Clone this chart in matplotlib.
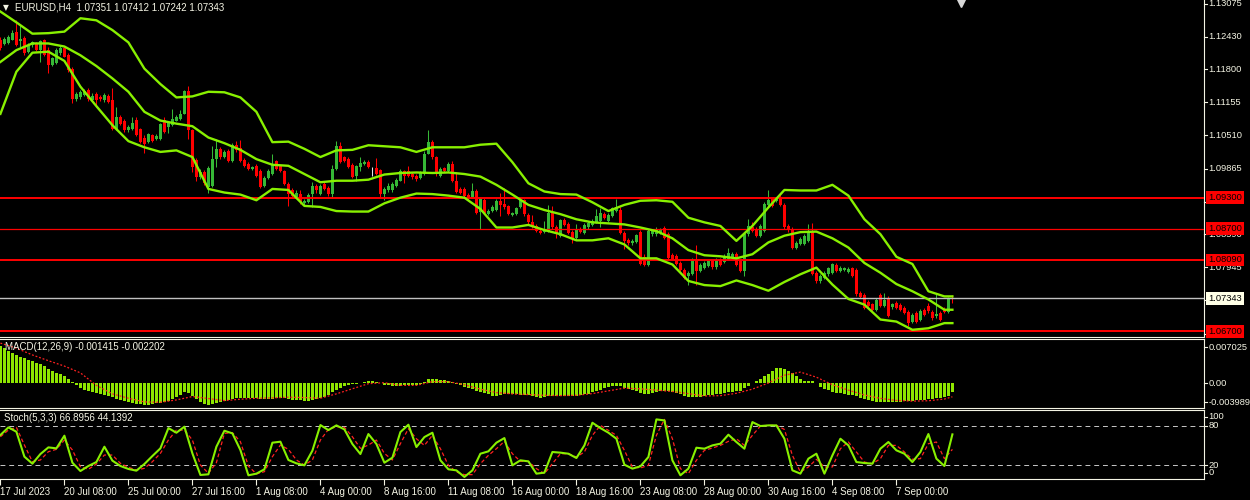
import numpy as np
import matplotlib
matplotlib.use("Agg")
import matplotlib.pyplot as plt
from matplotlib.transforms import offset_copy

# ---- data (EURUSD H4) ----
symbol = "EURUSD,H4"

opens = np.array([
    1.1237, 1.1229, 1.1230, 1.1237, 1.1253, 1.1234, 1.1240, 1.1214, 1.1227, 1.1230,
    1.1217, 1.1236, 1.1217, 1.1188, 1.1191, 1.1211, 1.1221, 1.1207, 1.1180, 1.1121,
    1.1125, 1.1129, 1.1140, 1.1120, 1.1131, 1.1126, 1.1120, 1.1128, 1.1120, 1.1064,
    1.1086, 1.1079, 1.1061, 1.1064, 1.1082, 1.1063, 1.1047, 1.1038, 1.1051, 1.1045,
    1.1045, 1.1082, 1.1067, 1.1071, 1.1080, 1.1084, 1.1093, 1.1137, 1.1061, 1.1004,
    1.0970, 1.0979, 1.0951, 1.0953, 1.1005, 1.1024, 1.1010, 1.1020, 1.1002, 1.1033,
    1.1027, 1.1004, 1.0996, 1.0985, 1.0991, 1.0981, 1.0953, 1.0969, 1.0976, 1.1001,
    1.0991, 1.0981, 1.0957, 1.0945, 1.0930, 1.0937, 1.0919, 1.0921, 1.0937, 1.0952,
    1.0938, 1.0957, 1.0949, 1.0937, 1.0986, 1.1031, 1.1009, 1.1005, 1.0994, 1.0972,
    1.0990, 1.0996, 1.1000, 1.0989, 1.0988, 1.0983, 1.0937, 1.0944, 1.0945, 1.0953,
    1.0963, 1.0981, 1.0981, 1.0976, 1.0973, 1.0968, 1.0976, 1.1015, 1.1039, 1.1009,
    1.0973, 1.0987, 1.0981, 1.0996, 1.0963, 1.0946, 1.0946, 1.0936, 1.0932, 1.0943,
    1.0903, 1.0926, 1.0898, 1.0904, 1.0906, 1.0924, 1.0918, 1.0914, 1.0897, 1.0899,
    1.0911, 1.0925, 1.0897, 1.0883, 1.0875, 1.0866, 1.0864, 1.0865, 1.0902, 1.0873,
    1.0856, 1.0887, 1.0879, 1.0863, 1.0851, 1.0868, 1.0861, 1.0872, 1.0877, 1.0882,
    1.0885, 1.0899, 1.0884, 1.0895, 1.0904, 1.0907, 1.0861, 1.0848, 1.0841, 1.0843,
    1.0864, 1.0815, 1.0800, 1.0859, 1.0859, 1.0862, 1.0871, 1.0860, 1.0818, 1.0817,
    1.0803, 1.0790, 1.0777, 1.0781, 1.0807, 1.0788, 1.0794, 1.0797, 1.0806, 1.0795,
    1.0809, 1.0805, 1.0810, 1.0813, 1.0820, 1.0806, 1.0787, 1.0859, 1.0873, 1.0868,
    1.0856, 1.0865, 1.0916, 1.0927, 1.0924, 1.0930, 1.0916, 1.0875, 1.0868, 1.0833,
    1.0839, 1.0839, 1.0846, 1.0863, 1.0783, 1.0768, 1.0774, 1.0781, 1.0784, 1.0800,
    1.0788, 1.0790, 1.0786, 1.0793, 1.0790, 1.0744, 1.0741, 1.0728, 1.0723, 1.0712,
    1.0741, 1.0719, 1.0734, 1.0717, 1.0725, 1.0721, 1.0716, 1.0708, 1.0688, 1.0705,
    1.0693, 1.0712, 1.0720, 1.0708, 1.0699, 1.0705, 1.0714, 1.0708, 1.07351])

highs = np.array([
    1.1243, 1.1242, 1.1246, 1.1256, 1.1275, 1.1266, 1.1245, 1.1230, 1.1234, 1.1232,
    1.1236, 1.1238, 1.1224, 1.1204, 1.1221, 1.1225, 1.1224, 1.1211, 1.1185, 1.1135,
    1.1139, 1.1142, 1.1144, 1.1133, 1.1135, 1.1130, 1.1133, 1.1131, 1.1144, 1.1107,
    1.1090, 1.1083, 1.1071, 1.1087, 1.1086, 1.1066, 1.1051, 1.1056, 1.1054, 1.1054,
    1.1075, 1.1086, 1.1080, 1.1103, 1.1090, 1.1100, 1.1140, 1.1147, 1.1064, 1.1007,
    1.0986, 1.0983, 1.0992, 1.1030, 1.1045, 1.1028, 1.1022, 1.1024, 1.1036, 1.1041,
    1.1043, 1.1007, 1.0999, 1.0992, 1.0996, 1.0986, 1.0973, 1.0986, 1.1015, 1.1004,
    1.0994, 1.0984, 1.0960, 1.0949, 1.0944, 1.0945, 1.0927, 1.0940, 1.0960, 1.0957,
    1.0957, 1.0960, 1.0953, 1.0994, 1.1040, 1.1038, 1.1012, 1.1009, 1.0997, 1.0994,
    1.1009, 1.1004, 1.1004, 1.0990, 1.1007, 1.0986, 1.0950, 1.0958, 1.0960, 1.0968,
    1.0986, 1.0984, 1.0992, 1.0979, 1.0976, 1.0981, 1.1020, 1.1062, 1.1043, 1.1012,
    1.0989, 1.0990, 1.1000, 1.1002, 1.0979, 1.0950, 1.0950, 1.0940, 1.0958, 1.0947,
    1.0932, 1.0929, 1.0908, 1.0915, 1.0927, 1.0940, 1.0948, 1.0916, 1.0903, 1.0912,
    1.0930, 1.0928, 1.0901, 1.0896, 1.0878, 1.0869, 1.0884, 1.0916, 1.0913, 1.0877,
    1.0889, 1.0890, 1.0882, 1.0867, 1.0878, 1.0872, 1.0880, 1.0885, 1.0888, 1.0908,
    1.0910, 1.0903, 1.0901, 1.0912, 1.0927, 1.0911, 1.0865, 1.0852, 1.0850, 1.0860,
    1.0867, 1.0820, 1.0869, 1.0870, 1.0872, 1.0871, 1.0875, 1.0863, 1.0822, 1.0821,
    1.0807, 1.0794, 1.0787, 1.0813, 1.0837, 1.0803, 1.0807, 1.0809, 1.0809, 1.0813,
    1.0813, 1.0820, 1.0833, 1.0824, 1.0824, 1.0809, 1.0861, 1.0888, 1.0882, 1.0872,
    1.0878, 1.0921, 1.0944, 1.0930, 1.0932, 1.0936, 1.0919, 1.0878, 1.0872, 1.0846,
    1.0854, 1.0859, 1.0878, 1.0880, 1.0787, 1.0781, 1.0787, 1.0796, 1.0803, 1.0803,
    1.0797, 1.0796, 1.0795, 1.0796, 1.0794, 1.0748, 1.0744, 1.0730, 1.0726, 1.0734,
    1.0745, 1.0745, 1.0738, 1.0726, 1.0729, 1.0725, 1.0719, 1.0712, 1.0705, 1.0709,
    1.0713, 1.0716, 1.0725, 1.0712, 1.0742, 1.0709, 1.0717, 1.0736, 1.07412])

lows = np.array([
    1.1217, 1.1226, 1.1229, 1.1236, 1.1225, 1.1224, 1.1207, 1.1212, 1.1224, 1.1216,
    1.1194, 1.1206, 1.1172, 1.1186, 1.1190, 1.1207, 1.1203, 1.1175, 1.1114, 1.1118,
    1.1122, 1.1127, 1.1118, 1.1118, 1.1107, 1.1118, 1.1117, 1.1114, 1.1062, 1.1062,
    1.1072, 1.1058, 1.1058, 1.1062, 1.1049, 1.1036, 1.1017, 1.1036, 1.1039, 1.1043,
    1.1043, 1.1056, 1.1056, 1.1069, 1.1079, 1.1082, 1.1092, 1.1045, 1.0979, 1.0963,
    1.0967, 1.0955, 1.0940, 1.0951, 1.0989, 1.1006, 1.1007, 1.1000, 1.1000, 1.1019,
    1.1000, 1.0990, 1.0984, 1.0983, 1.0971, 1.0949, 1.0951, 1.0967, 1.0975, 1.0984,
    1.0979, 1.0955, 1.0914, 1.0932, 1.0929, 1.0918, 1.0916, 1.0919, 1.0911, 1.0940,
    1.0936, 1.0945, 1.0934, 1.0930, 1.0983, 1.0997, 1.1000, 1.0987, 1.0968, 1.0963,
    1.0981, 1.0993, 1.0987, 1.0973, 1.0974, 1.0930, 1.0925, 1.0942, 1.0942, 1.0950,
    1.0962, 1.0958, 1.0970, 1.0966, 1.0963, 1.0966, 1.0975, 1.1014, 1.1006, 1.0972,
    1.0971, 1.0979, 1.0979, 1.0961, 1.0940, 1.0938, 1.0932, 1.0925, 1.0929, 1.0898,
    1.0869, 1.0899, 1.0896, 1.0903, 1.0904, 1.0895, 1.0908, 1.0896, 1.0895, 1.0897,
    1.0909, 1.0895, 1.0878, 1.0871, 1.0863, 1.0860, 1.0861, 1.0863, 1.0869, 1.0852,
    1.0854, 1.0875, 1.0860, 1.0841, 1.0848, 1.0861, 1.0859, 1.0869, 1.0875, 1.0880,
    1.0872, 1.0888, 1.0882, 1.0893, 1.0902, 1.0859, 1.0830, 1.0838, 1.0838, 1.0841,
    1.0799, 1.0797, 1.0798, 1.0856, 1.0856, 1.0859, 1.0850, 1.0811, 1.0808, 1.0799,
    1.0788, 1.0771, 1.0761, 1.0779, 1.0761, 1.0786, 1.0791, 1.0795, 1.0792, 1.0792,
    1.0798, 1.0803, 1.0808, 1.0811, 1.0798, 1.0785, 1.0777, 1.0856, 1.0863, 1.0854,
    1.0854, 1.0863, 1.0914, 1.0912, 1.0921, 1.0914, 1.0869, 1.0864, 1.0830, 1.0830,
    1.0837, 1.0837, 1.0843, 1.0779, 1.0765, 1.0765, 1.0771, 1.0778, 1.0782, 1.0786,
    1.0786, 1.0787, 1.0784, 1.0775, 1.0739, 1.0734, 1.0713, 1.0717, 1.0710, 1.0710,
    1.0717, 1.0717, 1.0697, 1.0714, 1.0713, 1.0710, 1.0704, 1.0680, 1.0686, 1.0687,
    1.0691, 1.0700, 1.0706, 1.0693, 1.0696, 1.0691, 1.0705, 1.0705, 1.07242])

closes = np.array([
    1.1221, 1.1238, 1.1242, 1.1251, 1.1227, 1.1238, 1.1211, 1.1227, 1.1232, 1.1217,
    1.1234, 1.1207, 1.1188, 1.1201, 1.1217, 1.1222, 1.1204, 1.1178, 1.1121, 1.1131,
    1.1135, 1.1138, 1.1121, 1.1128, 1.1120, 1.1121, 1.1129, 1.1116, 1.1064, 1.1087,
    1.1074, 1.1061, 1.1067, 1.1076, 1.1051, 1.1038, 1.1035, 1.1053, 1.1041, 1.1050,
    1.1073, 1.1058, 1.1077, 1.1083, 1.1086, 1.1093, 1.1137, 1.1061, 1.0989, 1.0971,
    1.0979, 1.0958, 1.0988, 1.1005, 1.1024, 1.1009, 1.1018, 1.1002, 1.1033, 1.1022,
    1.1002, 1.0992, 1.0986, 1.0990, 1.0973, 1.0950, 1.0969, 1.0981, 1.0995, 1.0986,
    1.0981, 1.0957, 1.0937, 1.0934, 1.0940, 1.0921, 1.0924, 1.0936, 1.0953, 1.0944,
    1.0953, 1.0947, 1.0937, 1.0985, 1.1031, 1.0999, 1.1002, 1.0989, 1.0971, 1.0992,
    1.0998, 1.1000, 1.0989, 1.0989, 1.0976, 1.0937, 1.0946, 1.0953, 1.0956, 1.0964,
    1.0981, 1.0973, 1.0973, 1.0970, 1.0966, 1.0979, 1.1015, 1.1039, 1.1009, 1.0979,
    1.0985, 1.0981, 1.0996, 1.0963, 1.0942, 1.0940, 1.0934, 1.0927, 1.0943, 1.0901,
    1.0927, 1.0901, 1.0905, 1.0912, 1.0923, 1.0916, 1.0911, 1.0898, 1.0901, 1.0909,
    1.0925, 1.0898, 1.0882, 1.0873, 1.0865, 1.0862, 1.0869, 1.0901, 1.0872, 1.0859,
    1.0886, 1.0877, 1.0862, 1.0849, 1.0868, 1.0864, 1.0876, 1.0881, 1.0884, 1.0894,
    1.0901, 1.0890, 1.0897, 1.0909, 1.0912, 1.0861, 1.0846, 1.0841, 1.0846, 1.0857,
    1.0801, 1.0800, 1.0865, 1.0866, 1.0868, 1.0867, 1.0852, 1.0813, 1.0810, 1.0801,
    1.0790, 1.0774, 1.0783, 1.0809, 1.0788, 1.0800, 1.0803, 1.0806, 1.0795, 1.0809,
    1.0800, 1.0816, 1.0822, 1.0820, 1.0800, 1.0787, 1.0859, 1.0875, 1.0865, 1.0856,
    1.0875, 1.0918, 1.0925, 1.0914, 1.0930, 1.0916, 1.0872, 1.0867, 1.0833, 1.0842,
    1.0850, 1.0855, 1.0863, 1.0782, 1.0768, 1.0777, 1.0783, 1.0793, 1.0801, 1.0788,
    1.0794, 1.0794, 1.0792, 1.0777, 1.0742, 1.0736, 1.0716, 1.0719, 1.0712, 1.0730,
    1.0719, 1.0730, 1.0699, 1.0723, 1.0716, 1.0712, 1.0706, 1.0686, 1.0702, 1.0689,
    1.0710, 1.0702, 1.0709, 1.0696, 1.0704, 1.0693, 1.0708, 1.0732, 1.07343])

# Bollinger bands (20,2), read every 4th bar plus the last one
bb_upper = [1.1292, 1.1271, 1.1249, 1.1250, 1.1253, 1.1279, 1.1275, 1.1256, 1.1232, 1.1181,
            1.1151, 1.1125, 1.1127, 1.1136, 1.1135, 1.1125, 1.1097, 1.1038, 1.1039, 1.1025,
            1.1009, 1.1022, 1.1023, 1.1032, 1.1030, 1.1028, 1.1019, 1.1028, 1.1028, 1.1028,
            1.1033, 1.1035, 1.0999, 1.0958, 1.0942, 1.0937, 1.0936, 1.0921, 1.0904, 1.0916,
            1.0924, 1.0925, 1.0922, 1.0891, 1.0882, 1.0875, 1.0846, 1.0875, 1.0911, 1.0945,
            1.0944, 1.0944, 1.0955, 1.0934, 1.0888, 1.0859, 1.0815, 1.0801, 1.0748, 1.0738, 1.0738]
bb_middle = [1.1194, 1.1217, 1.1230, 1.1230, 1.1224, 1.1207, 1.1186, 1.1162, 1.1136, 1.1097,
             1.1080, 1.1074, 1.1069, 1.1047, 1.1036, 1.1023, 1.1005, 1.0994, 1.0992, 1.0976,
             1.0960, 1.0963, 1.0963, 1.0965, 1.0975, 1.0978, 1.0979, 1.0978, 1.0979, 1.0976,
             1.0971, 1.0955, 1.0936, 1.0916, 1.0906, 1.0898, 1.0888, 1.0882, 1.0880, 1.0878,
             1.0872, 1.0865, 1.0851, 1.0828, 1.0818, 1.0816, 1.0812, 1.0820, 1.0843, 1.0856,
             1.0863, 1.0864, 1.0851, 1.0833, 1.0803, 1.0784, 1.0762, 1.0748, 1.0732, 1.0712, 1.0712]
bb_lower = [1.1093, 1.1175, 1.1212, 1.1214, 1.1196, 1.1146, 1.1108, 1.1071, 1.1040, 1.1028,
            1.1019, 1.1022, 1.1009, 1.0947, 1.0940, 1.0936, 1.0925, 1.0947, 1.0945, 1.0914,
            1.0912, 1.0904, 1.0903, 1.0903, 1.0919, 1.0930, 1.0938, 1.0937, 1.0934, 1.0930,
            1.0908, 1.0872, 1.0872, 1.0877, 1.0867, 1.0859, 1.0847, 1.0847, 1.0851, 1.0839,
            1.0812, 1.0812, 1.0800, 1.0768, 1.0760, 1.0758, 1.0769, 1.0760, 1.0749, 1.0766,
            1.0781, 1.0794, 1.0761, 1.0733, 1.0722, 1.0693, 1.0689, 1.0673, 1.0676, 1.0686, 1.0686]

# MACD(12,26,9) main (histogram, every bar)
macd_main = [
    0.00594, 0.00556, 0.00518, 0.00486, 0.00448, 0.00421, 0.00394, 0.00367, 0.00346, 0.00324,
    0.00297, 0.00270, 0.00216, 0.00184, 0.00162, 0.00140, 0.00108, 0.00070, 0.00011, -0.00038,
    -0.00076, -0.00108, -0.00135, -0.00151, -0.00167, -0.00178, -0.00194, -0.00205, -0.00227, -0.00248,
    -0.00270, -0.00292, -0.00308, -0.00319, -0.00329, -0.00340, -0.00351, -0.00346, -0.00329, -0.00324,
    -0.00313, -0.00302, -0.00286, -0.00259, -0.00227, -0.00194, -0.00146, -0.00162, -0.00205, -0.00259,
    -0.00302, -0.00329, -0.00351, -0.00335, -0.00319, -0.00302, -0.00286, -0.00270, -0.00254, -0.00243,
    -0.00238, -0.00232, -0.00232, -0.00232, -0.00243, -0.00254, -0.00259, -0.00254, -0.00248, -0.00243,
    -0.00243, -0.00243, -0.00254, -0.00265, -0.00270, -0.00275, -0.00281, -0.00281, -0.00270, -0.00254,
    -0.00238, -0.00216, -0.00194, -0.00146, -0.00108, -0.00076, -0.00054, -0.00027, -0.00022, -0.00011,
    0.00005, 0.00016, 0.00027, 0.00027, 0.00022, 0.00000, -0.00027, -0.00038, -0.00049, -0.00054,
    -0.00055, -0.00038, -0.00027, -0.00027, -0.00027, -0.00016, 0.00016, 0.00065, 0.00071, 0.00060,
    0.00055, 0.00044, 0.00038, 0.00022, -0.00011, -0.00038, -0.00060, -0.00082, -0.00098, -0.00120,
    -0.00142, -0.00158, -0.00180, -0.00202, -0.00202, -0.00185, -0.00180, -0.00180, -0.00180, -0.00180,
    -0.00185, -0.00191, -0.00191, -0.00207, -0.00223, -0.00234, -0.00229, -0.00213, -0.00202, -0.00202,
    -0.00202, -0.00202, -0.00202, -0.00207, -0.00202, -0.00196, -0.00180, -0.00169, -0.00147, -0.00125,
    -0.00109, -0.00087, -0.00065, -0.00049, -0.00044, -0.00055, -0.00076, -0.00093, -0.00109, -0.00131,
    -0.00153, -0.00180, -0.00169, -0.00153, -0.00136, -0.00131, -0.00125, -0.00131, -0.00142, -0.00158,
    -0.00180, -0.00202, -0.00218, -0.00229, -0.00229, -0.00218, -0.00207, -0.00196, -0.00191, -0.00180,
    -0.00169, -0.00153, -0.00142, -0.00136, -0.00131, -0.00120, -0.00082, -0.00044, 0.00002, 0.00038,
    0.00065, 0.00109, 0.00147, 0.00196, 0.00234, 0.00245, 0.00223, 0.00191, 0.00153, 0.00114,
    0.00071, 0.00038, 0.00027, 0.00027, -0.00005, -0.00060, -0.00093, -0.00114, -0.00136, -0.00153,
    -0.00164, -0.00174, -0.00185, -0.00196, -0.00213, -0.00234, -0.00256, -0.00273, -0.00289, -0.00305,
    -0.00311, -0.00311, -0.00305, -0.00300, -0.00300, -0.00300, -0.00294, -0.00289, -0.00283, -0.00278,
    -0.00273, -0.00267, -0.00262, -0.00256, -0.00245, -0.00234, -0.00223, -0.00213, -0.001415]
# MACD signal, every 4th bar plus the last
macd_signal = [
    0.00637, 0.00556, 0.00448, 0.00356, 0.00270, 0.00162, -0.00038, -0.00173, -0.00243, -0.00302,
    -0.00308, -0.00270, -0.00216, -0.00248, -0.00281, -0.00259, -0.00243, -0.00238, -0.00227, -0.00232,
    -0.00243, -0.00173, -0.00092, -0.00011, 0.00005,
    -0.00038, -0.00038, 0.00022, 0.00022, -0.00027, -0.00098, -0.00153, -0.00174, -0.00185, -0.00196,
    -0.00202, -0.00196, -0.00169, -0.00125, -0.00082, -0.00093, -0.00114, -0.00136, -0.00169, -0.00207,
    -0.00202, -0.00164, -0.00098, 0.00000, 0.00125, 0.00174, 0.00093, -0.00027, -0.00114, -0.00191,
    -0.00245, -0.00278, -0.00289, -0.00283, -0.00256, -0.002202]

# Stochastic(5,3,3), every 2nd bar
stoch_main = [
    65.9, 77.5, 70.9, 33.1, 22.5, 37.1, 47.2, 45.7, 64.9, 24.0,
    11.4, 19.0, 25.0, 48.2, 27.1, 19.0, 14.5, 11.9, 22.0, 34.1,
    45.7, 76.4, 69.4, 78.5, 38.1, 5.4, 6.4, 48.2, 72.4, 68.4,
    43.2, 4.9, 7.4, 14.0, 54.3, 55.8, 28.1, 23.0, 20.0, 42.2,
    81.0, 73.4, 80.5, 74.4, 52.3, 37.1, 67.4, 52.3, 24.0, 31.6,
    70.4, 81.5, 47.7, 62.8, 69.4, 27.6, 14.0, 12.4, 2.4, 12.4,
    37.6, 41.2, 54.3, 61.3, 20.0, 27.6, 26.0, 7.4, 8.9, 40.2,
    39.2, 37.6, 31.1, 50.2, 84.5, 76.4, 69.4, 60.3, 21.0, 15.0,
    18.5, 32.6, 89.6, 88.0, 27.6, 4.9, 15.0, 46.7, 45.2, 50.2,
    52.8, 66.4, 55.3, 45.2, 85.5, 79.5, 80.5, 80.5, 60.3, 12.4,
    7.4, 30.1, 37.6, 7.4, 35.1, 60.3, 50.2, 25.0, 23.5, 22.5,
    45.2, 55.3, 42.7, 37.6, 25.0, 40.2, 67.4, 30.1, 19.0, 66.8956]
stoch_signal = [
    63.3, 73.4, 77.5, 50.7, 25.5, 28.1, 40.7, 44.2, 58.3, 43.2,
    18.0, 14.0, 22.0, 35.6, 35.6, 23.0, 17.0, 12.9, 15.5, 25.5,
    38.1, 58.3, 73.4, 73.4, 58.3, 20.5, 7.9, 24.0, 68.4, 69.4,
    55.8, 19.0, 6.9, 10.4, 33.1, 50.7, 44.2, 28.1, 20.5, 28.1,
    58.3, 74.4, 78.5, 77.5, 63.3, 45.7, 50.7, 58.3, 38.1, 28.1,
    52.8, 75.4, 60.3, 50.2, 65.4, 45.2, 20.0, 9.9, 5.9, 5.9,
    22.5, 35.1, 45.2, 56.3, 37.6, 26.0, 26.0, 15.0, 7.4, 22.5,
    37.6, 37.6, 32.6, 40.2, 65.4, 80.5, 72.9, 65.4, 42.7, 17.5,
    16.0, 20.0, 65.4, 89.6, 60.3, 15.0, 7.4, 27.6, 42.7, 46.2,
    50.2, 56.3, 60.3, 50.2, 65.4, 79.5, 80.5, 80.5, 74.4, 35.1,
    9.9, 17.5, 29.1, 17.5, 17.5, 45.2, 55.3, 40.2, 25.0, 22.5,
    30.1, 50.2, 50.2, 40.2, 29.1, 30.1, 52.8, 55.3, 30.1, 44.1392]

level_lines = [1.09300, 1.08700, 1.08090, 1.06700]
price_ticks = [1.13075, 1.12430, 1.11800, 1.11155, 1.10510, 1.09865,
               1.09220, 1.08590, 1.07945, 1.07300, 1.06655]
date_ticks = [0, 16, 32, 48, 64, 80, 96, 112, 128, 144, 160, 176, 192, 208, 224]
date_labels = ["17 Jul 2023", "20 Jul 08:00", "25 Jul 00:00", "27 Jul 16:00",
               "1 Aug 08:00", "4 Aug 00:00", "8 Aug 16:00", "11 Aug 08:00",
               "16 Aug 00:00", "18 Aug 16:00", "23 Aug 08:00", "28 Aug 00:00",
               "30 Aug 16:00", "4 Sep 08:00", "7 Sep 00:00"]

# ---- style ----
plt.rcParams['font.family'] = ['Liberation Sans', 'DejaVu Sans']
FS = 7
FS_R = 6.7   # right-hand scale labels
CREAM = '#F4F4E4'
BULL = '#36B836'
BEAR = '#FF0000'
BAND = '#88F000'
W, H = 1250, 500

fig = plt.figure(figsize=(12.5, 5), dpi=100, facecolor='black')


def box(x0, y0, x1, y1):
    return [x0 / W, 1 - y1 / H, (x1 - x0) / W, (y1 - y0) / H]


def panel(rect, top=True):
    ax = fig.add_axes(rect)
    ax.set_facecolor('black')
    ax.set_xlim(-0.1, 300.9)
    for side in ['left', 'top', 'right', 'bottom']:
        ax.spines[side].set_visible(side != 'left' and (top or side != 'top'))
        ax.spines[side].set_color(CREAM)
        ax.spines[side].set_linewidth(0.8)
    ax.set_yticks([])
    ax.set_xticks([])
    return ax


def rlabel(ax, val, txt, dy=0.0):
    tr = offset_copy(ax.get_yaxis_transform(), fig=fig, x=0, y=dy, units='points')
    ax.plot([1.0, 1.0025], [val, val], transform=tr, color=CREAM, lw=0.8, clip_on=False)
    tr2 = offset_copy(ax.get_yaxis_transform(), fig=fig, x=3.3, y=dy, units='points')
    ax.text(1.0, val, txt, transform=tr2, ha='left', va='center', color=CREAM,
            fontsize=FS_R, clip_on=False)


ax_p = panel(box(0, 0, 1204, 337), top=False)
ax_m = panel(box(0, 339, 1204, 408))
ax_s = panel(box(0, 410, 1204, 479))

# ---- price panel ----
ax_p.set_ylim(1.0659, 1.13145)
x = np.arange(len(closes))
cols = np.where(closes > opens, BULL, np.where(closes < opens, BEAR, '#E8E8E8'))
ax_p.vlines(x, lows, highs, colors=cols, lw=0.75, zorder=3)
body_h = np.maximum(np.abs(closes - opens), 0.00012)
ax_p.bar(x, body_h, bottom=np.minimum(opens, closes), width=0.75, color=cols,
         linewidth=0, zorder=3)

bx = np.r_[np.arange(0, 237, 4), 238]
for band in (bb_upper, bb_middle, bb_lower):
    ax_p.plot(bx, band, color=BAND, lw=1.7, zorder=5)

for lvl, lw in zip(level_lines, [1.4, 0.9, 1.4, 1.4]):
    ax_p.axhline(lvl, color='#FF0000', lw=lw, zorder=4)
ax_p.axhline(closes[-1], color='#C0C0C0', lw=1.0, zorder=4)

for t in price_ticks:
    rlabel(ax_p, t, '%.5f' % t)
tag_tr = offset_copy(ax_p.get_yaxis_transform(), fig=fig, x=3.0, y=0, units='points')
for lvl in level_lines:
    ax_p.text(1.0, lvl, '%.5f' % lvl, transform=tag_tr, ha='left', va='center',
              fontsize=FS_R, color='black', zorder=10, clip_on=False,
              bbox=dict(boxstyle='square,pad=0.2', fc='#FF0000', ec='none'))
ax_p.text(1.0, closes[-1], '%.5f' % closes[-1], transform=tag_tr, ha='left', va='center',
          fontsize=FS_R, color='black', zorder=10, clip_on=False,
          bbox=dict(boxstyle='square,pad=0.2', fc='#FFFFE6', ec='none'))

fig.text(3 / W, 1 - 7.5 / H, '\u25bc', fontsize=5.5, color=CREAM, va='center', ha='left',
         family=['DejaVu Sans'])
fig.text(15 / W, 1 - 7.5 / H,
         '%s  %.5f %.5f %.5f %.5f' % (symbol, opens[-1], highs[-1], lows[-1], closes[-1]),
         color=CREAM, fontsize=FS, ha='left', va='center')
ax_p.plot([961 / 4], [0.992], transform=ax_p.get_xaxis_transform(), marker='v',
          ms=6, color='#D8D8D8', clip_on=False, zorder=6)

# ---- MACD panel ----
mtop, mbot = 0.007025, -0.003989
ax_m.set_ylim(mbot, mtop)
ax_m.bar(x, macd_main, width=0.75, color='#8FE600', linewidth=0, zorder=3)
ax_m.plot(bx, macd_signal, color='#FF2020', lw=0.9, ls=(0, (1.5, 1.5)), zorder=4)
rlabel(ax_m, mtop, '%.6f' % mtop, dy=-5.8)
rlabel(ax_m, 0.0, '0.00')
rlabel(ax_m, mbot, '%.6f' % mbot, dy=4.3)
fig.text(5 / W, 1 - 347 / H, 'MACD(12,26,9) %.6f %.6f' % (macd_main[-1], macd_signal[-1]),
         color=CREAM, fontsize=FS, ha='left', va='center')

# ---- Stochastic panel ----
ax_s.set_ylim(-0.7, 103.8)
sx = np.arange(0, 239, 2)
ax_s.axhline(80, color='#C8C8C8', lw=0.7, ls=(0, (5, 4)), zorder=2)
ax_s.axhline(20, color='#C8C8C8', lw=0.7, ls=(0, (5, 4)), zorder=2)
ax_s.plot(sx, stoch_main, color=BAND, lw=1.5, zorder=4)
ax_s.plot(sx, stoch_signal, color='#FF2020', lw=0.9, ls=(0, (3, 2)), zorder=3)
rlabel(ax_s, 100, '100', dy=-3.2)
rlabel(ax_s, 80, '80')
rlabel(ax_s, 20, '20')
rlabel(ax_s, 0, '0', dy=4.2)
fig.text(4 / W, 1 - 418 / H, 'Stoch(5,3,3) %.4f %.4f' % (stoch_main[-1], stoch_signal[-1]),
         color=CREAM, fontsize=FS, ha='left', va='center')

ax_s.set_xticks(date_ticks)
ax_s.set_xticklabels(date_labels)
ax_s.tick_params(axis='x', colors=CREAM, length=4, width=0.8, pad=1.5, labelsize=FS)
for lab in ax_s.get_xticklabels():
    lab.set_horizontalalignment('left')

fig.savefig('out.png', dpi=100, facecolor='black')
